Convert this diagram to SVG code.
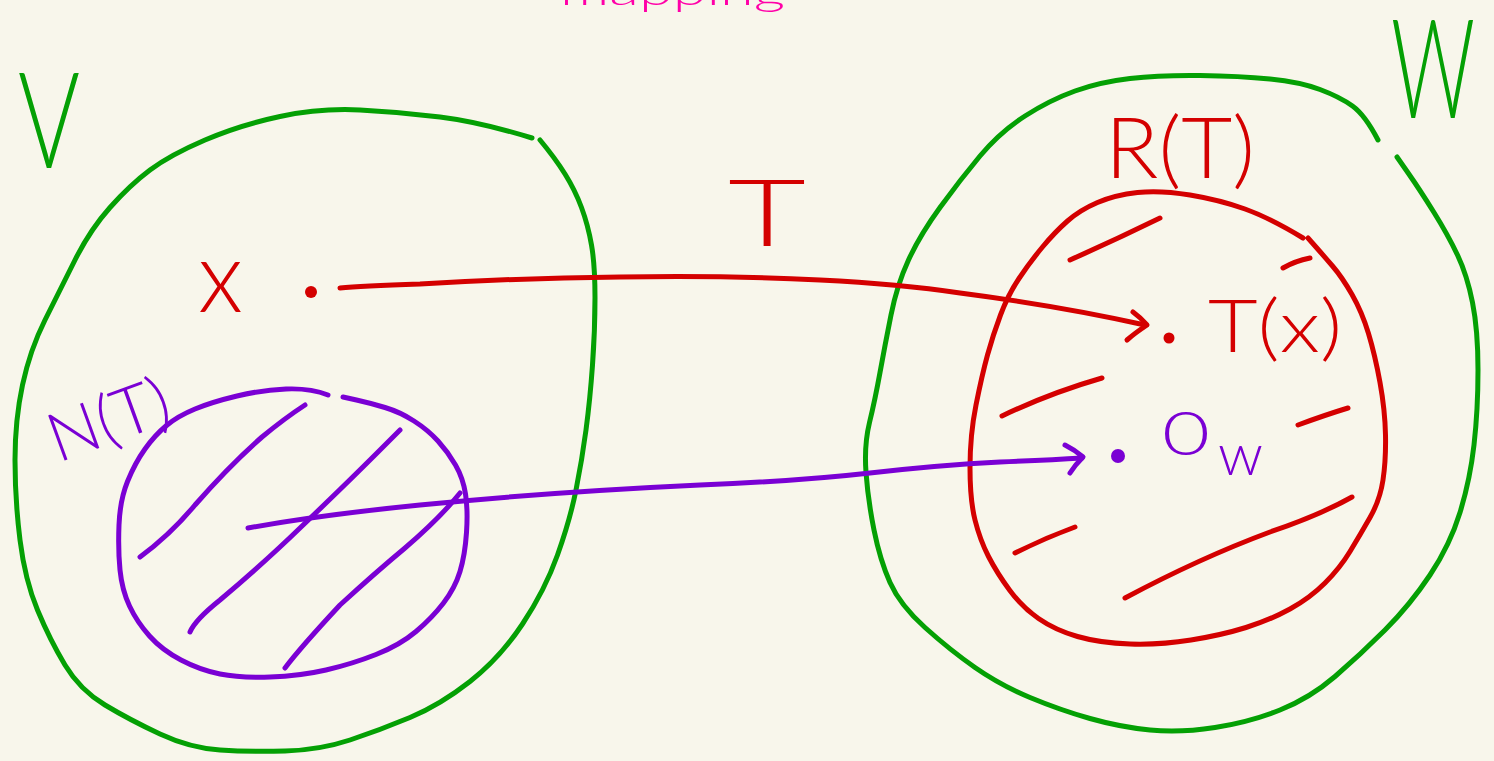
<svg xmlns="http://www.w3.org/2000/svg" width="1494" height="761" viewBox="0 0 1494 761">
<style>
.s{fill:none;stroke-width:5;stroke-linecap:round;stroke-linejoin:round}
.g{stroke:#04a004}
.r{stroke:#d40000}
.p{stroke:#7a00d4}
.t{font-family:Lato,"Open Sans","DejaVu Sans",sans-serif;font-weight:300}
.tg{fill:#04a004}
.tr{fill:#d40000}
.tp{fill:#7a00d4}
</style>
<rect width="1494" height="761" fill="#f8f6eb"/>
<text class="t" x="560" y="5" font-size="40" fill="#ff00a8" textLength="225" lengthAdjust="spacingAndGlyphs">mapping</text>

<g id="node-V">
<path class="s g" d="M532,138 Q480,122 440,117 Q400,112 360,110 Q320,108 280,116.5 Q240,125 205,140 Q170,155 150,170 Q130,185 110,207.5 Q90,230 75,260 Q60,290 45,320 Q30,350 22.5,385 Q15,420 15,460 Q15,500 20,540 Q25,580 37.5,610 Q50,640 65,665 Q80,690 105,705 Q130,720 160,734 Q190,748 220,750 Q250,752 285,751 Q320,750 350,740 Q380,730 410,717.5 Q440,705 470,681.5 Q500,658 522.5,624 Q545,590 557.5,555 Q570,520 576,490 Q582,460 586,430 Q590,400 592.5,365 Q595,330 595,297.5 Q595,265 591.5,245 Q588,225 581.5,207.5 Q575,190 565,174 Q555,158 540,140"/>
<text class="t tg" x="18" y="168" font-size="135" textLength="62" lengthAdjust="spacingAndGlyphs">V</text>
</g>

<g id="node-x">
<circle cx="311" cy="292" r="6" fill="#d40000"/>
<text class="t tr" x="198" y="312" font-size="100" textLength="45" lengthAdjust="spacingAndGlyphs">x</text>
</g>

<g id="node-NT">
<path class="s p" d="M328,395 Q310,388 286,389 Q262,390 237,396 Q212,402 195,409 Q178,416 166.5,425.5 Q155,435 145,449 Q135,463 127.5,481.5 Q120,500 119,525 Q118,550 120,570 Q122,590 129.5,606 Q137,622 149.5,636 Q162,650 181,660 Q200,670 220,674 Q240,678 270,677 Q300,676 326,670 Q352,664 376,654.5 Q400,645 416,631.5 Q432,618 443.5,603 Q455,588 460,571.5 Q465,555 466.5,532.5 Q468,510 465.5,494 Q463,478 455.5,465 Q448,452 438,441 Q428,430 414,421 Q400,412 385,407.5 Q370,403 356.5,400 L343,397"/>
<path class="s p" d="M140,557 Q170,535 195,505 Q230,465 262,437 Q285,418 305,405"/>
<path class="s p" d="M190,632 Q195,620 220,600 Q265,562 300,528 Q345,485 375,455 Q390,440 400,430"/>
<path class="s p" d="M285,668 Q300,648 340,605 Q375,573 405,548 Q440,518 460,493"/>
<text class="t tp" x="58" y="463" font-size="68" textLength="125" lengthAdjust="spacingAndGlyphs" transform="rotate(-20 58 463)">N(T)</text>
</g>

<g id="node-W">
<path class="s g" d="M1378,140 Q1365,115 1352.5,106 Q1340,97 1320,89.5 Q1300,82 1270,79 Q1240,76 1200,75.5 Q1160,75 1130,78.5 Q1100,82 1075,91 Q1050,100 1025,116 Q1000,132 980,156 Q960,180 940,207.5 Q920,235 908.5,260 Q897,285 891,315 Q885,345 880,372.5 Q875,400 869.5,422.5 Q864,445 866,472.5 Q868,500 874,530 Q880,560 890,582.5 Q900,605 925,627.5 Q950,650 975,667.5 Q1000,685 1030,697.5 Q1060,710 1090,718.5 Q1120,727 1150,730 Q1180,733 1215,727.5 Q1250,722 1280,710 Q1310,698 1335,676.5 Q1360,655 1385,630 Q1410,605 1430,575 Q1450,545 1460,512.5 Q1470,480 1474,445 Q1478,410 1478,370 Q1478,330 1472.5,302.5 Q1467,275 1457.5,255 Q1448,235 1434,212.5 Q1420,190 1408.5,173.5 L1397,157"/>
<text class="t tg" x="1391" y="118" font-size="138" textLength="84" lengthAdjust="spacingAndGlyphs">W</text>
</g>

<g id="node-RT">
<path class="s r" d="M1303,238 Q1270,218 1245,209 Q1220,200 1190,195 Q1160,190 1137.5,192.5 Q1115,195 1097.5,202.5 Q1080,210 1067.5,221 Q1055,232 1042.5,247 Q1030,262 1019,278.5 Q1008,295 1000.5,315 Q993,335 987.5,355 Q982,375 976,405 Q970,435 970,467.5 Q970,500 975,520 Q980,540 988.5,556.5 Q997,573 1009.5,590 Q1022,607 1038.5,618.5 Q1055,630 1077.5,636.5 Q1100,643 1130,644 Q1160,645 1191,640 Q1222,635 1246,627.5 Q1270,620 1290,609 Q1310,598 1325,583 Q1340,568 1350,551.5 Q1360,535 1370,517.5 Q1380,500 1383,480 Q1386,460 1385.5,435 Q1385,410 1380,382.5 Q1375,355 1368.5,333.5 Q1362,312 1352,294.5 Q1342,277 1332.5,266 Q1323,255 1315.5,246.5 L1308,238"/>
<path class="s r" d="M1070,260 Q1115,240 1160,218"/>
<path class="s r" d="M1283,268 Q1295,261 1310,258"/>
<path class="s r" d="M1002,416 Q1050,393 1102,378"/>
<path class="s r" d="M1298,425 Q1325,415 1348,408"/>
<path class="s r" d="M1015,553 Q1045,538 1075,527"/>
<path class="s r" d="M1125,598 Q1200,558 1270,532 Q1320,515 1352,497"/>
<text class="t tr" x="1105" y="178" font-size="84" textLength="150" lengthAdjust="spacingAndGlyphs">R(T)</text>
</g>

<g id="node-Tx">
<circle cx="1169" cy="338" r="5.5" fill="#d40000"/>
<text class="t tr" x="1208" y="352" font-size="72" textLength="134" lengthAdjust="spacingAndGlyphs">T(x)</text>
</g>

<g id="node-0w">
<circle cx="1118" cy="456" r="7" fill="#7a00d4"/>
<text class="t tp" x="1162" y="455" font-size="62" textLength="48" lengthAdjust="spacingAndGlyphs">0</text>
<text class="t tp" x="1218" y="475" font-size="58" textLength="45" lengthAdjust="spacingAndGlyphs">w</text>
</g>

<g id="connectors">
<path class="s r" d="M340,288 Q360,286 420,284 Q520,278 620,277 Q720,275 820,280 Q900,284 960,293 Q1060,306 1145,325"/>
<path class="s r" d="M1133,312 Q1140,317 1147,325 Q1135,333 1127,340"/>
<text class="t tr" x="728" y="246" font-size="92" textLength="78" lengthAdjust="spacingAndGlyphs">T</text>
<path class="s p" d="M248,528 Q320,515 420,505 Q550,492 700,485 Q800,481 870,473 Q940,465 1000,462 Q1050,460 1082,458"/>
<path class="s p" d="M1065,445 Q1075,450 1083,457 Q1075,465 1070,473"/>
</g>
</svg>
